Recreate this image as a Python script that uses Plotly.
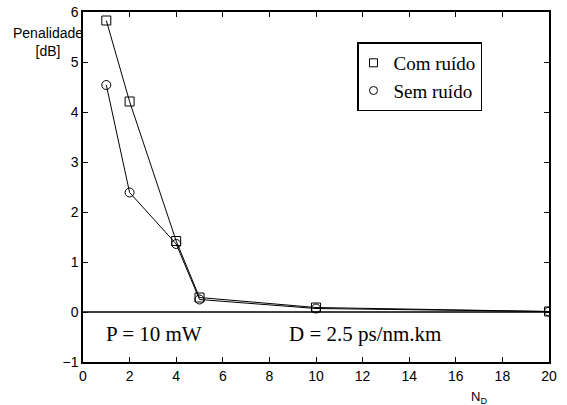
import plotly.graph_objects as go

nd = [1, 2, 4, 5, 10, 20]
com_ruido = [5.83, 4.21, 1.42, 0.29, 0.09, 0.01]
sem_ruido = [4.54, 2.39, 1.36, 0.25, 0.07, 0.01]
x_ticks = [0, 2, 4, 6, 8, 10, 12, 14, 16, 18, 20]
y_ticks = [-1, 0, 1, 2, 3, 4, 5, 6]

fig = go.Figure()
# zero line
fig.add_trace(go.Scatter(x=[0, 20], y=[0, 0], mode="lines",
                         line=dict(color="black", width=1.5), showlegend=False, hoverinfo="skip"))
fig.add_trace(go.Scatter(x=nd, y=com_ruido, mode="lines+markers",
                         line=dict(color="black", width=1),
                         marker=dict(symbol="square-open", size=9, color="black", line=dict(width=1)),
                         showlegend=False))
fig.add_trace(go.Scatter(x=nd, y=sem_ruido, mode="lines+markers",
                         line=dict(color="black", width=1),
                         marker=dict(symbol="circle-open", size=9, color="black", line=dict(width=1)),
                         showlegend=False))
# legend-only entries (markers only)
fig.add_trace(go.Scatter(x=[None], y=[None], mode="markers", name="Com ruído",
                         marker=dict(symbol="square-open", size=8, color="black", line=dict(width=1))))
fig.add_trace(go.Scatter(x=[None], y=[None], mode="markers", name="Sem ruído",
                         marker=dict(symbol="circle-open", size=8, color="black", line=dict(width=1))))

axis_common = dict(showgrid=False, zeroline=False, showline=True, linecolor="black", linewidth=1.5,
                   mirror="ticks", ticks="inside", ticklen=5, tickcolor="black", automargin=False,
                   tickfont=dict(family="Liberation Sans, Arial", size=14, color="black"))
fig.update_xaxes(range=[0, 20], tickvals=x_ticks, **axis_common)
fig.update_yaxes(range=[-1, 6], tickvals=y_ticks, **axis_common)

fig.add_annotation(text="Penalidade<br>[dB]", xref="paper", yref="paper", x=-0.076, y=0.914,
                   xanchor="center", yanchor="middle", showarrow=False, align="center",
                   font=dict(family="Liberation Sans, Arial", size=14, color="black"))
fig.add_annotation(text="N<sub>D</sub>", xref="paper", yref="paper", x=0.85, y=-0.072,
                   xanchor="center", yanchor="top", showarrow=False,
                   font=dict(family="Liberation Sans, Arial", size=13, color="black"))
fig.add_annotation(text="P = 10 mW", x=0.9, y=-0.44, xanchor="left", yanchor="middle", showarrow=False,
                   font=dict(family="Liberation Serif, Times New Roman", size=21, color="black"))
fig.add_annotation(text="D = 2.5 ps/nm.km", x=8.75, y=-0.44, xanchor="left", yanchor="middle", showarrow=False,
                   font=dict(family="Liberation Serif, Times New Roman", size=21, color="black"))

fig.update_layout(
    width=567, height=405,
    margin=dict(l=83, r=18, t=12, b=43),
    plot_bgcolor="white", paper_bgcolor="white",
    legend=dict(x=0.588, y=0.913, xanchor="left", yanchor="top",
                bordercolor="black", borderwidth=1.5, bgcolor="white",
                font=dict(family="Liberation Serif, Times New Roman", size=19, color="black"),
                tracegroupgap=0, itemwidth=30, indentation=-5),
)

fig.write_html("out.html", config={"displayModeBar": False},
               post_script="document.body.style.margin='0';document.body.style.padding='0';document.body.style.overflow='hidden';")
